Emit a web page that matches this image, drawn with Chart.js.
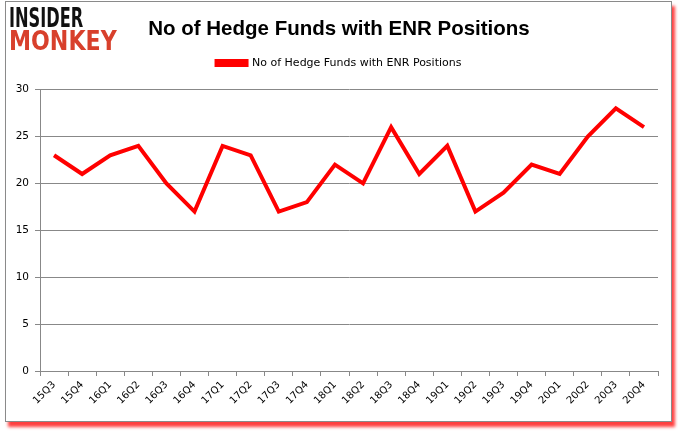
<!DOCTYPE html>
<html>
<head>
<meta charset="utf-8">
<script src="https://cdn.jsdelivr.net/npm/chart.js@4/dist/chart.umd.min.js"></script>
<style>
  html, body { margin: 0; padding: 0; background: #fff; }
  #wrap { position: relative; width: 678px; height: 431px; overflow: hidden; }
  #frame {
    position: absolute; left: 5px; top: 1px; width: 665px; height: 419px;
    border: 1px solid #8a8a8a; background: #fff;
    box-shadow: 3px 5px 3px rgba(255, 0, 0, 0.75);
  }
  #logo { position: absolute; left: 9px; top: 6px; font-family: "DejaVu Sans", sans-serif; font-weight: bold; line-height: 23px; }
  #logo div { font-size: 27px; transform-origin: left center; white-space: nowrap; }
  #logo .a { color: #111; transform: scaleX(0.6); }
  #logo .b { color: #d8402c; transform: scaleX(0.82); }
  canvas { position: absolute; left: 0; top: 0; }
</style>
</head>
<body>
<div id="wrap">
  <div id="frame"></div>
  <canvas id="myChart" width="678" height="431"></canvas>
  <div id="logo"><div class="a">INSIDER</div><div class="b">MONKEY</div></div>
</div>
<script>
var quarters = ['15Q3', '15Q4', '16Q1', '16Q2', '16Q3', '16Q4', '17Q1', '17Q2', '17Q3', '17Q4', '18Q1',
    '18Q2', '18Q3', '18Q4', '19Q1', '19Q2', '19Q3', '19Q4', '20Q1', '20Q2', '20Q3', '20Q4'];
var hedgeFunds = [23, 21, 23, 24, 20, 17, 24, 23, 17, 18, 22, 20, 26, 21, 24, 17, 19, 22, 21, 25, 28, 26];
var seriesName = 'No of Hedge Funds with ENR Positions';

// more space between legend and plot, and title/legend centred on the frame
var headerTweaks = {
    id: 'headerTweaks',
    beforeInit: function (chart) {
        var fit = chart.legend.fit;
        chart.legend.fit = function () {
            fit.bind(chart.legend)();
            this.height += 11;
        };
    },
    afterLayout: function (chart) {
        [chart.titleBlock, chart.legend].forEach(function (box) {
            box.left += 10;
            box.right += 10;
        });
    }
};

var ctx = document.getElementById('myChart').getContext('2d');
var myChart = new Chart(ctx, {
    type: 'line',
    data: {
        labels: quarters,
        datasets: [{
            label: seriesName,
            data: hedgeFunds,
            borderColor: '#ff0000',
            backgroundColor: '#ff0000',
            borderWidth: 4,
            pointRadius: 0,
            tension: 0
        }]
    },
    options: {
        responsive: false,
        animation: false,
        layout: { padding: { top: 17, left: 0, right: 20, bottom: 0 } },
        plugins: {
            title: {
                display: true,
                text: seriesName,
                color: '#000',
                font: { family: 'Liberation Sans', size: 20.5, weight: 'bold' },
                padding: { top: 0, bottom: 0 }
            },
            legend: {
                labels: {
                    boxWidth: 30,
                    boxHeight: 4,
                    color: '#000',
                    font: { family: 'DejaVu Sans', size: 11 },
                    padding: 16
                }
            },
            tooltip: { enabled: false }
        },
        scales: {
            x: {
                offset: true,
                grid: { offset: true, drawOnChartArea: false, color: '#888', tickLength: 5 },
                border: { color: '#888' },
                ticks: {
                    color: '#000',
                    font: { family: 'DejaVu Sans', size: 10 },
                    minRotation: 45,
                    maxRotation: 45,
                    autoSkip: false
                },
                afterFit: function (scale) { scale.height = 60; }
            },
            y: {
                min: 0,
                max: 30,
                ticks: {
                    stepSize: 5,
                    color: '#000',
                    font: { family: 'DejaVu Sans', size: 10.5 },
                    padding: 6
                },
                grid: { color: '#888', tickLength: 5 },
                border: { color: '#888' },
                afterFit: function (scale) { scale.width = 40; }
            }
        }
    },
    plugins: [headerTweaks]
});
</script>
</body>
</html>
